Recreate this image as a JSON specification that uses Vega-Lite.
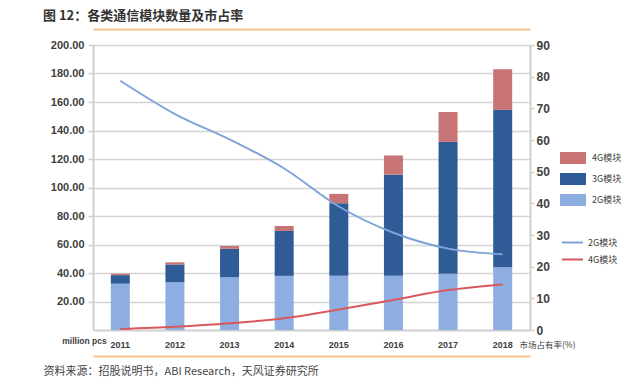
{
  "$schema": "https://vega.github.io/schema/vega-lite/v6.json",
  "width": 437,
  "height": 285,
  "autosize": {"type": "none"},
  "padding": {"left": 93, "top": 45, "right": 111, "bottom": 50},
  "background": "white",
  "title": {
    "text": "图 12：各类通信模块数量及市占率",
    "anchor": "start",
    "frame": "group",
    "dx": -50,
    "offset": 6,
    "font": "Noto Sans CJK SC",
    "fontSize": 13,
    "fontWeight": "bold",
    "color": "#333333"
  },
  "config": {
    "view": {"stroke": null},
    "font": "Liberation Sans"
  },
  "datasets": {
    "bars": [
      {"year": "2011", "type": "2G模块", "value": 32.5},
      {"year": "2011", "type": "3G模块", "value": 6},
      {"year": "2011", "type": "4G模块", "value": 1},
      {"year": "2012", "type": "2G模块", "value": 33.5},
      {"year": "2012", "type": "3G模块", "value": 12.5},
      {"year": "2012", "type": "4G模块", "value": 1.5},
      {"year": "2013", "type": "2G模块", "value": 37},
      {"year": "2013", "type": "3G模块", "value": 20},
      {"year": "2013", "type": "4G模块", "value": 2},
      {"year": "2014", "type": "2G模块", "value": 38},
      {"year": "2014", "type": "3G模块", "value": 31.5},
      {"year": "2014", "type": "4G模块", "value": 3.5},
      {"year": "2015", "type": "2G模块", "value": 38},
      {"year": "2015", "type": "3G模块", "value": 51},
      {"year": "2015", "type": "4G模块", "value": 6.5},
      {"year": "2016", "type": "2G模块", "value": 38},
      {"year": "2016", "type": "3G模块", "value": 71},
      {"year": "2016", "type": "4G模块", "value": 13.5},
      {"year": "2017", "type": "2G模块", "value": 39.5},
      {"year": "2017", "type": "3G模块", "value": 92.5},
      {"year": "2017", "type": "4G模块", "value": 21},
      {"year": "2018", "type": "2G模块", "value": 44},
      {"year": "2018", "type": "3G模块", "value": 110.5},
      {"year": "2018", "type": "4G模块", "value": 28.5}
    ],
    "lines": [
      {"year": "2011", "series": "2G模块", "share": 78.7},
      {"year": "2012", "series": "2G模块", "share": 68.2},
      {"year": "2013", "series": "2G模块", "share": 60.2},
      {"year": "2014", "series": "2G模块", "share": 51},
      {"year": "2015", "series": "2G模块", "share": 39},
      {"year": "2016", "series": "2G模块", "share": 30.7},
      {"year": "2017", "series": "2G模块", "share": 25.7},
      {"year": "2018", "series": "2G模块", "share": 23.9},
      {"year": "2011", "series": "4G模块", "share": 0.3},
      {"year": "2012", "series": "4G模块", "share": 1.0},
      {"year": "2013", "series": "4G模块", "share": 2.1},
      {"year": "2014", "series": "4G模块", "share": 3.7},
      {"year": "2015", "series": "4G模块", "share": 6.5},
      {"year": "2016", "series": "4G模块", "share": 9.5},
      {"year": "2017", "series": "4G模块", "share": 12.6},
      {"year": "2018", "series": "4G模块", "share": 14.4}
    ]
  },
  "layer": [
    {
      "data": {"name": "bars"},
      "mark": {"type": "bar", "size": 19},
      "encoding": {
        "x": {
          "field": "year",
          "type": "ordinal",
          "scale": {"paddingInner": 0, "paddingOuter": 0},
          "axis": {
            "orient": "bottom",
            "title": null,
            "labelAngle": 0,
            "labelFont": "Liberation Sans",
            "labelFontSize": 9,
            "labelFontWeight": "bold",
            "labelColor": "#404040",
            "labelPadding": 10,
            "ticks": false,
            "domainColor": "#cfcfcf",
            "domainWidth": 2,
            "grid": false
          }
        },
        "y": {
          "field": "value",
          "type": "quantitative",
          "stack": "zero",
          "scale": {"domain": [0, 200]},
          "axis": {
            "orient": "left",
            "values": [20, 40, 60, 80, 100, 120, 140, 160, 180, 200],
            "format": ".2f",
            "labelFont": "Liberation Sans",
            "labelFontSize": 11,
            "labelFontWeight": "bold",
            "labelColor": "#404040",
            "labelPadding": 4,
            "tickSize": 5,
            "tickColor": "#cfcfcf",
            "tickWidth": 1.5,
            "domainColor": "#cfcfcf",
            "domainWidth": 2,
            "grid": true,
            "gridColor": "#d4d4d4",
            "gridWidth": 1.5,
            "title": "million pcs",
            "titleAngle": 0,
            "titleX": -9,
            "titleY": 295,
            "titleAlign": "center",
            "titleBaseline": "middle",
            "titleFont": "Liberation Sans",
            "titleFontSize": 8.5,
            "titleFontWeight": "bold",
            "titleColor": "#404040"
          }
        },
        "color": {
          "field": "type",
          "type": "nominal",
          "scale": {
            "domain": ["4G模块", "3G模块", "2G模块"],
            "range": ["#c87474", "#2f5c97", "#8eaee2"]
          },
          "legend": {
            "orient": "none",
            "legendX": 467,
            "legendY": 100,
            "title": null,
            "symbolType": "M-1,-0.46L1,-0.46L1,0.46L-1,0.46Z",
            "symbolSize": 676,
            "symbolStrokeWidth": 0,
            "symbolOpacity": 1,
            "rowPadding": 2,
            "labelOffset": 6,
            "labelFont": "Noto Sans CJK SC",
            "labelFontSize": 9,
            "labelColor": "#404040"
          }
        },
        "order": {"field": "type", "sort": "ascending"}
      }
    },
    {
      "data": {"name": "lines"},
      "encoding": {
        "y": {
          "field": "share",
          "type": "quantitative",
          "scale": {"domain": [0, 90]},
          "axis": {
            "orient": "right",
            "values": [0, 10, 20, 30, 40, 50, 60, 70, 80, 90],
            "labelFont": "Liberation Sans",
            "labelFontSize": 12,
            "labelFontWeight": "bold",
            "labelColor": "#404040",
            "labelPadding": 2,
            "tickSize": 4,
            "tickColor": "#cfcfcf",
            "tickWidth": 1.5,
            "domainColor": "#cfcfcf",
            "domainWidth": 2,
            "grid": false,
            "title": "市场占有率(%)",
            "titleAngle": 0,
            "titleX": 17,
            "titleY": 299,
            "titleAlign": "center",
            "titleBaseline": "middle",
            "titleFont": "Noto Sans CJK SC",
            "titleFontSize": 8.5,
            "titleFontWeight": "normal",
            "titleColor": "#404040"
          }
        },
        "stroke": {
          "field": "series",
          "type": "nominal",
          "scale": {
            "domain": ["2G模块", "4G模块"],
            "range": ["#7fa3d8", "#d9585b"]
          },
          "legend": {
            "orient": "none",
            "legendX": 468,
            "legendY": 186,
            "title": null,
            "symbolType": "stroke",
            "symbolSize": 441,
            "symbolStrokeWidth": 2,
            "rowPadding": 0,
            "labelOffset": 4,
            "labelFont": "Noto Sans CJK SC",
            "labelFontSize": 9,
            "labelColor": "#404040"
          }
        }
      },
      "layer": [
        {
          "transform": [{"filter": "datum.series === '2G模块'"}],
          "mark": {"type": "line", "interpolate": "monotone", "strokeWidth": 2},
          "encoding": {
            "x": {
              "field": "year",
              "type": "ordinal",
              "axis": {
                "orient": "top",
                "offset": 16,
                "title": null,
                "labels": false,
                "ticks": false,
                "grid": false,
                "domainColor": "#f8c08c",
                "domainWidth": 2
              }
            }
          }
        },
        {
          "transform": [{"filter": "datum.series === '4G模块'"}],
          "mark": {"type": "line", "interpolate": "monotone", "strokeWidth": 2},
          "encoding": {
            "x": {
              "field": "year",
              "type": "ordinal",
              "axis": {
                "orient": "bottom",
                "offset": 26,
                "labels": false,
                "ticks": false,
                "grid": false,
                "domainColor": "#f8c08c",
                "domainWidth": 2,
                "title": "资料来源：招股说明书，ABI Research，天风证券研究所",
                "titleX": -50,
                "titleY": 15,
                "titleAlign": "left",
                "titleAnchor": "start",
                "titleBaseline": "middle",
                "titleFont": "Noto Sans CJK SC",
                "titleFontSize": 11,
                "titleFontWeight": "normal",
                "titleColor": "#444444"
              }
            }
          }
        }
      ],
      "resolve": {"axis": {"x": "independent"}}
    }
  ],
  "resolve": {"scale": {"y": "independent"}, "axis": {"x": "independent"}}
}
